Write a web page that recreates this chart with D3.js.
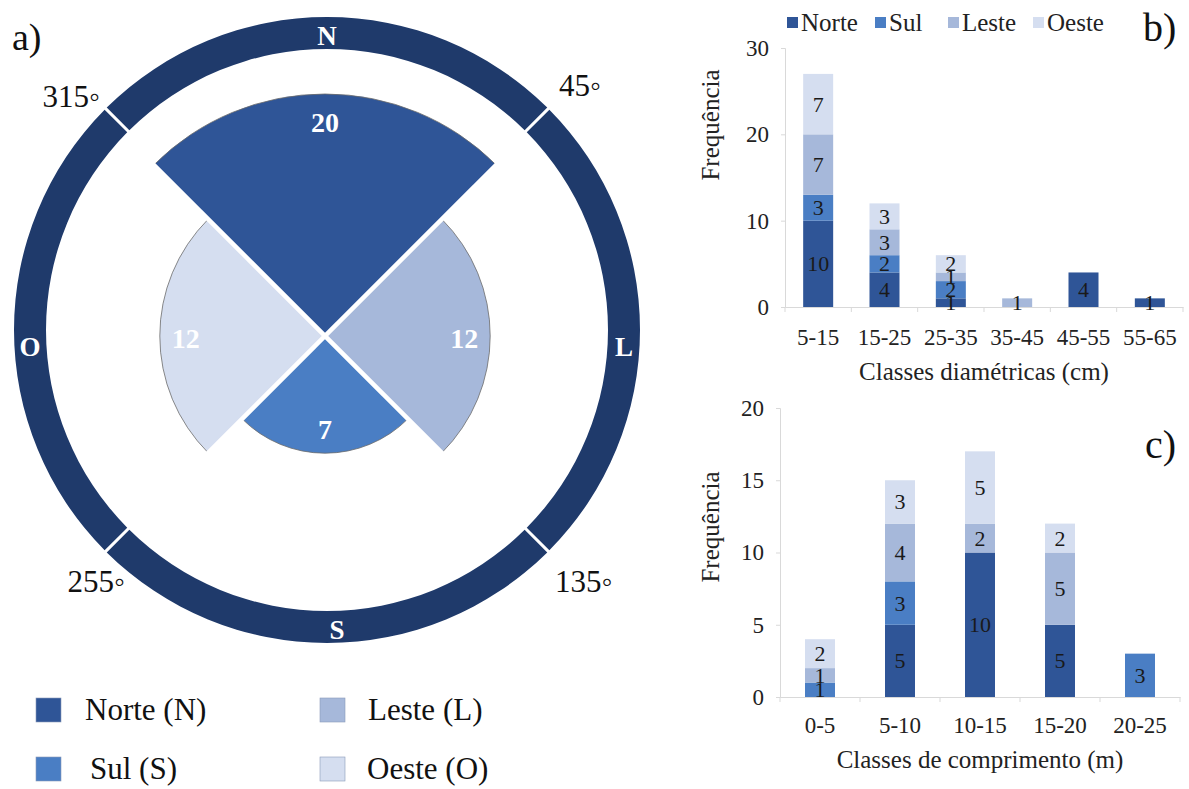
<!DOCTYPE html>
<html>
<head>
<meta charset="utf-8">
<script src="https://cdn.jsdelivr.net/npm/d3@7"></script>
<style>
  html, body { margin: 0; padding: 0; background: #fff; }
  svg { display: block; font-family: "Liberation Serif", "Times New Roman", serif; }
</style>
</head>
<body>
<svg id="fig" width="1189" height="789"></svg>
<script>
// ---- data ----
const roseDirections = ["N", "L", "S", "O"];
const roseAngles = [0, 90, 180, 270];
const roseCounts = [20, 12, 7, 12];
const roseSeries = ["Norte", "Leste", "Sul", "Oeste"];
const bearingLabels = ["315◦", "45◦", "255◦", "135◦"];

const series = ["Norte", "Sul", "Leste", "Oeste"];
const legendRose = ["Norte (N)", "Leste (L)", "Sul (S)", "Oeste (O)"];

const diamClasses = ["5-15", "15-25", "25-35", "35-45", "45-55", "55-65"];
const diamNorte = [10, 4, 1, 0, 4, 1];
const diamSul   = [3, 2, 2, 0, 0, 0];
const diamLeste = [7, 3, 1, 1, 0, 0];
const diamOeste = [7, 3, 2, 0, 0, 0];
const diamTicks = [0, 10, 20, 30];

const lenClasses = ["0-5", "5-10", "10-15", "15-20", "20-25"];
const lenNorte = [0, 5, 10, 5, 0];
const lenSul   = [1, 3, 0, 0, 3];
const lenLeste = [1, 4, 2, 5, 0];
const lenOeste = [2, 3, 5, 2, 0];
const lenTicks = [0, 5, 10, 15, 20];

// ---- styling ----
const color = d3.scaleOrdinal()
  .domain(series)
  .range(["#2f5597", "#4a7ec4", "#a6b8da", "#d5def0"]);
const ringColor = "#1f3a6b";
const axisGray = "#d9d9d9";
const serif = "'Liberation Serif', 'Times New Roman', serif";

const svg = d3.select("#fig");

// =========================== a) rose ===========================
const ringCx = 327, ringCy = 330;
const roseCx = 325, roseCy = 336;
const deg = Math.PI / 180;

// outer compass ring, split into four quadrants
const ringArc = d3.arc()
  .innerRadius(281).outerRadius(313)
  .padAngle(3 / 297).padRadius(297);
const ringG = svg.append("g").attr("transform", `translate(${ringCx},${ringCy})`);
ringG.selectAll("path")
  .data(roseAngles)
  .join("path")
  .attr("d", a => ringArc({ startAngle: (a - 45) * deg, endAngle: (a + 45) * deg }))
  .attr("fill", ringColor);
ringG.selectAll("text")
  .data(roseDirections)
  .join("text")
  .attr("x", (d, i) => Math.sin(roseAngles[i] * deg) * 297 + (d === "S" ? 10 : 0))
  .attr("y", (d, i) => -Math.cos(roseAngles[i] * deg) * 297 + (d === "O" || d === "L" ? 17 : 3))
  .attr("text-anchor", "middle")
  .attr("dominant-baseline", "central")
  .attr("fill", "#fff")
  .attr("font-weight", "bold")
  .attr("font-size", 27)
  .text(d => d);

// sectors: radius grows with the count in each direction
const rScale = d3.scaleLinear().domain([0, 20]).range([50, 242]);
const wedgeArc = d3.arc().innerRadius(0);
const roseG = svg.append("g").attr("transform", `translate(${roseCx},${roseCy})`);
const roseData = roseCounts.map((v, i) => ({
  dir: roseDirections[i], name: roseSeries[i], value: v, angle: roseAngles[i]
}));
roseG.selectAll("path")
  .data(roseData)
  .join("path")
  .attr("d", d => wedgeArc({
    outerRadius: rScale(d.value),
    startAngle: (d.angle - 45) * deg,
    endAngle: (d.angle + 45) * deg
  }))
  .attr("fill", d => color(d.name))
  .attr("stroke", "#6b6b6b")
  .attr("stroke-width", 0.8);

// white separators along the sector borders
const sepLen = rScale(d3.max(roseCounts)) + 4;
roseG.selectAll("line.sep")
  .data([45, 135])
  .join("line")
  .attr("class", "sep")
  .attr("x1", a => Math.sin(a * deg) * sepLen)
  .attr("y1", a => -Math.cos(a * deg) * sepLen)
  .attr("x2", a => -Math.sin(a * deg) * sepLen)
  .attr("y2", a => Math.cos(a * deg) * sepLen)
  .attr("stroke", "#fff")
  .attr("stroke-width", 4.5);

roseG.selectAll("text")
  .data(roseData)
  .join("text")
  .attr("x", d => Math.sin(d.angle * deg) * (rScale(d.value) - 26))
  .attr("y", d => -Math.cos(d.angle * deg) * (rScale(d.value) - 26) + 2)
  .attr("text-anchor", "middle")
  .attr("dominant-baseline", "central")
  .attr("fill", "#fff")
  .attr("font-weight", "bold")
  .attr("font-size", 28)
  .text(d => d.value);

// bearing labels round the ring
const bearingPos = [
  { x: 100, y: 107, anchor: "end" },
  { x: 559, y: 96, anchor: "start" },
  { x: 125, y: 592, anchor: "end" },
  { x: 555, y: 592, anchor: "start" }
];
svg.append("g").selectAll("text")
  .data(bearingLabels)
  .join("text")
  .attr("x", (d, i) => bearingPos[i].x)
  .attr("y", (d, i) => bearingPos[i].y)
  .attr("text-anchor", (d, i) => bearingPos[i].anchor)
  .attr("font-size", 31)
  .attr("fill", "#111")
  .text(d => d);

svg.append("text").attr("x", 12).attr("y", 50)
  .attr("font-size", 38).attr("fill", "#111").text("a)");

// legend for the rose
const legA = svg.append("g");
const legAPos = [
  { x: 36, y: 698, tx: 85 },
  { x: 320, y: 698, tx: 368 },
  { x: 36, y: 757, tx: 90 },
  { x: 320, y: 757, tx: 367 }
];
legA.selectAll("rect")
  .data(legendRose)
  .join("rect")
  .attr("x", (d, i) => legAPos[i].x)
  .attr("y", (d, i) => legAPos[i].y)
  .attr("width", 25).attr("height", 24)
  .attr("fill", (d, i) => color(roseSeries[i]))
  .attr("stroke", "#8a9ab8").attr("stroke-width", 0.6);
legA.selectAll("text")
  .data(legendRose)
  .join("text")
  .attr("x", (d, i) => legAPos[i].tx)
  .attr("y", (d, i) => legAPos[i].y + 22)
  .attr("font-size", 31)
  .attr("fill", "#111")
  .text(d => d);

// =================== stacked bar panels (b, c) ===================
function stackedPanel(opts) {
  const { classes, cols, ticks, x0, x1, y0, yTop, yMax, xTitle, yTitleY, xTitleY, tickLabelY, letter, letterPos } = opts;
  const rows = classes.map((c, i) => {
    const r = { cls: c };
    series.forEach((s, k) => { r[s] = cols[k][i]; });
    return r;
  });
  const step = (x1 - x0) / classes.length;
  const pIn = 1 - 30 / step;
  const x = d3.scaleBand().domain(classes).range([x0, x1])
    .paddingInner(pIn).paddingOuter(pIn / 2);
  const y = d3.scaleLinear().domain([0, yMax]).range([y0, yTop]);
  const g = svg.append("g");

  // y axis
  const yAxis = g.append("g").attr("transform", `translate(${x0},0)`)
    .call(d3.axisLeft(y).tickValues(ticks).tickSize(4).tickPadding(12));
  yAxis.select(".domain").attr("stroke", axisGray);
  yAxis.selectAll(".tick line").attr("stroke", axisGray);
  yAxis.selectAll(".tick text").attr("font-family", serif).attr("font-size", 23).attr("fill", "#222");

  // x axis with ticks on category boundaries
  const xAxis = g.append("g").attr("transform", `translate(0,${y0})`)
    .call(d3.axisBottom(x).tickSize(0).tickPadding(0).tickSizeOuter(0));
  xAxis.select(".domain").attr("stroke", axisGray);
  xAxis.selectAll(".tick text")
    .attr("font-family", serif).attr("font-size", 23).attr("fill", "#222")
    .attr("dy", null).attr("y", tickLabelY - y0).attr("dominant-baseline", "auto");
  g.append("g").selectAll("line")
    .data(d3.range(classes.length + 1))
    .join("line")
    .attr("x1", i => x0 + i * x.step()).attr("x2", i => x0 + i * x.step())
    .attr("y1", y0).attr("y2", y0 + 5)
    .attr("stroke", axisGray);

  // bars
  const stacked = d3.stack().keys(series)(rows);
  const layer = g.append("g").selectAll("g")
    .data(stacked)
    .join("g")
    .attr("fill", d => color(d.key));
  layer.selectAll("rect")
    .data(d => d.filter(p => p[1] > p[0]))
    .join("rect")
    .attr("x", p => x(p.data.cls))
    .attr("width", x.bandwidth())
    .attr("y", p => y(p[1]))
    .attr("height", p => y(p[0]) - y(p[1]));

  // value labels
  const labels = g.append("g");
  stacked.forEach(s => {
    s.filter(p => p[1] > p[0]).forEach(p => {
      labels.append("text")
        .attr("x", x(p.data.cls) + x.bandwidth() / 2)
        .attr("y", y((p[0] + p[1]) / 2))
        .attr("text-anchor", "middle")
        .attr("dominant-baseline", "central")
        .attr("font-size", 22)
        .attr("fill", "#1a1a1a")
        .text(p[1] - p[0]);
    });
  });

  // titles
  g.append("text")
    .attr("transform", `translate(719,${yTitleY}) rotate(-90)`)
    .attr("text-anchor", "middle")
    .attr("font-size", 25).attr("fill", "#222")
    .text("Frequência");
  g.append("text")
    .attr("x", (x0 + x1) / 2).attr("y", xTitleY)
    .attr("text-anchor", "middle")
    .attr("font-size", 25).attr("fill", "#222")
    .text(xTitle);
  g.append("text")
    .attr("x", letterPos[0]).attr("y", letterPos[1])
    .attr("font-size", 40).attr("fill", "#111")
    .text(letter);
  return { x, y };
}

// b) diameter classes
stackedPanel({
  classes: diamClasses,
  cols: [diamNorte, diamSul, diamLeste, diamOeste],
  ticks: diamTicks, yMax: 30,
  x0: 785, x1: 1183, y0: 307, yTop: 48,
  xTitle: "Classes diamétricas (cm)",
  yTitleY: 125, xTitleY: 380, tickLabelY: 345,
  letter: "b)", letterPos: [1143, 41]
});

// legend for the bar panels
const legBX = [787, 875, 948, 1033];
const legB = svg.append("g");
legB.selectAll("rect")
  .data(series)
  .join("rect")
  .attr("x", (d, i) => legBX[i]).attr("y", 17)
  .attr("width", 11).attr("height", 11)
  .attr("fill", d => color(d));
legB.selectAll("text")
  .data(series)
  .join("text")
  .attr("x", (d, i) => legBX[i] + 14).attr("y", 31)
  .attr("font-size", 25).attr("fill", "#222")
  .text(d => d);

// c) length classes
stackedPanel({
  classes: lenClasses,
  cols: [lenNorte, lenSul, lenLeste, lenOeste],
  ticks: lenTicks, yMax: 20,
  x0: 780, x1: 1180, y0: 697, yTop: 408,
  xTitle: "Classes de comprimento (m)",
  yTitleY: 527, xTitleY: 768, tickLabelY: 733,
  letter: "c)", letterPos: [1145, 458]
});
</script>
</body>
</html>
